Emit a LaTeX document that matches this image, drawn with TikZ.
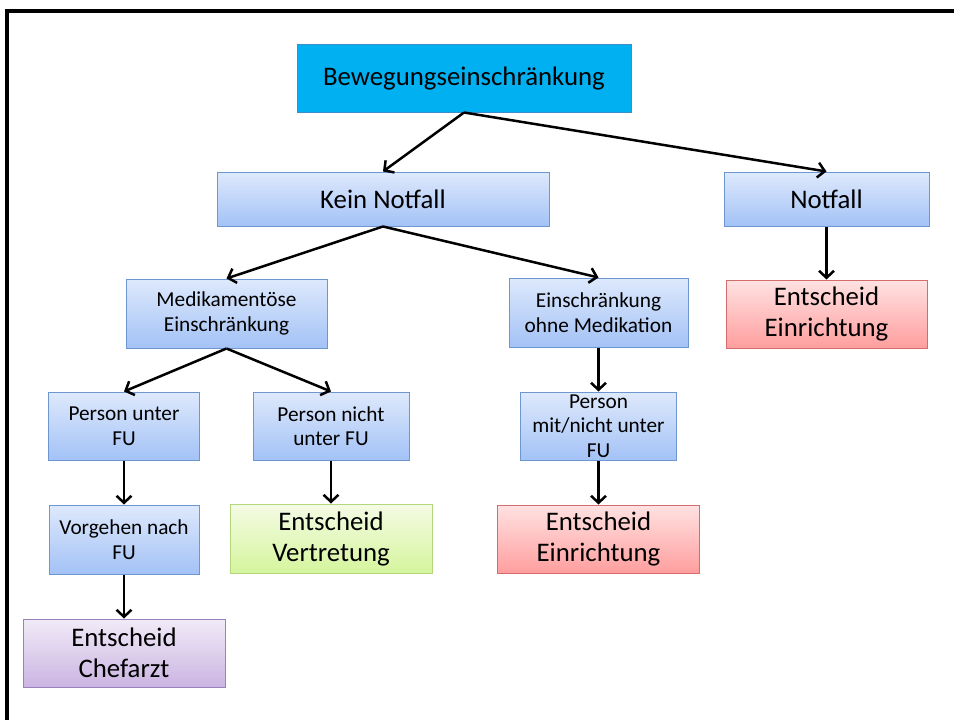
\documentclass[tikz,border=0pt]{standalone}
\usepackage{fontspec}
\setmainfont{Carlito}
\usetikzlibrary{arrows.meta}

%box colours
\definecolor{headfill}{HTML}{00B0F0}
\definecolor{headedge}{HTML}{3A8FC8}
\definecolor{bluetop}{HTML}{DEE9FC}
\definecolor{bluebot}{HTML}{A3C2F6}
\definecolor{blueedge}{HTML}{6F97CF}
\definecolor{redtop}{HTML}{FFE2E2}
\definecolor{redbot}{HTML}{FF9E9E}
\definecolor{rededge}{HTML}{D46C6C}
\definecolor{greentop}{HTML}{F4FBE4}
\definecolor{greenbot}{HTML}{D5F59D}
\definecolor{greenedge}{HTML}{B3D67E}
\definecolor{violettop}{HTML}{F1EBF7}
\definecolor{violetbot}{HTML}{CBB4E2}
\definecolor{violetedge}{HTML}{9B80C0}

\tikzset{
  box/.style={rectangle, inner sep=0pt, align=center, line width=1pt},
  bigtext/.style={font=\fontsize{26.8}{31}\selectfont},
  smalltext/.style={font=\fontsize{21.3}{24.5}\selectfont},
  headbox/.style={box, bigtext, fill=headfill, draw=headedge},
  bluebox/.style={box, top color=bluetop, bottom color=bluebot, draw=blueedge},
  redbox/.style={box, bigtext, top color=redtop, bottom color=redbot, draw=rededge},
  greenbox/.style={box, bigtext, top color=greentop, bottom color=greenbot, draw=greenedge},
  violetbox/.style={box, bigtext, top color=violettop, bottom color=violetbot, draw=violetedge},
  link/.style={line width=2.5pt, -{Straight Barb[length=7pt,width=15pt]}}
}

\begin{document}
\begin{tikzpicture}[x=1pt,y=-1pt]

\useasboundingbox (0,0) rectangle (954,720);

%frame
\coordinate (F1) at (7,720);
\coordinate (F2) at (7,11);
\coordinate (F3) at (954,11);
\draw[line width=3.2pt] (F1) -- (F2) -- (F3);

%top level
\node[headbox, minimum width=334pt, minimum height=68pt] (beweg) at (464,78) {Bewegungseinschränkung};
\node[bluebox, bigtext, minimum width=332pt, minimum height=54pt] (kein) at (383,199) {Kein Notfall};
\node[bluebox, bigtext, minimum width=205pt, minimum height=54pt] (notfall) at (826.5,199) {Notfall};
\node[redbox, minimum width=201pt, minimum height=68pt] (einrA) at (826.5,314) {Entscheid\\Einrichtung};

%second level
\node[bluebox, smalltext, minimum width=201pt, minimum height=69pt] (medi) at (226.5,313.5) {Medikamentöse\\Einschränkung};
\node[bluebox, smalltext, minimum width=179pt, minimum height=69pt] (ohne) at (598.5,312.5) {Einschränkung\\ohne Medikation};

%third level
\node[bluebox, smalltext, minimum width=151pt, minimum height=68pt] (punter) at (124,426) {Person unter\\FU};
\node[bluebox, smalltext, minimum width=156pt, minimum height=68pt] (pnicht) at (331,426) {Person nicht\\unter FU};
\node[bluebox, smalltext, minimum width=156pt, minimum height=68pt] (pmit) at (598.5,426) {Person\\mit/nicht unter\\FU};

%last level
\node[bluebox, smalltext, minimum width=150pt, minimum height=69pt] (vorg) at (124,539.5) {Vorgehen nach\\FU};
\node[violetbox, minimum width=202pt, minimum height=68pt] (chef) at (124,653) {Entscheid\\Chefarzt};
\node[greenbox, minimum width=202pt, minimum height=69pt] (vertr) at (331,538.5) {Entscheid\\Vertretung};
\node[redbox, minimum width=202pt, minimum height=68pt] (einrB) at (598.5,539) {Entscheid\\Einrichtung};

%draw arrows
\foreach \a/\b in {beweg/kein,beweg/notfall,notfall/einrA,kein/medi,kein/ohne,
                   medi/punter,medi/pnicht,ohne/pmit,punter/vorg,vorg/chef,
                   pnicht/vertr,pmit/einrB}{
    \draw[link] (\a.south) -- (\b.north);
}

\end{tikzpicture}
\end{document}
